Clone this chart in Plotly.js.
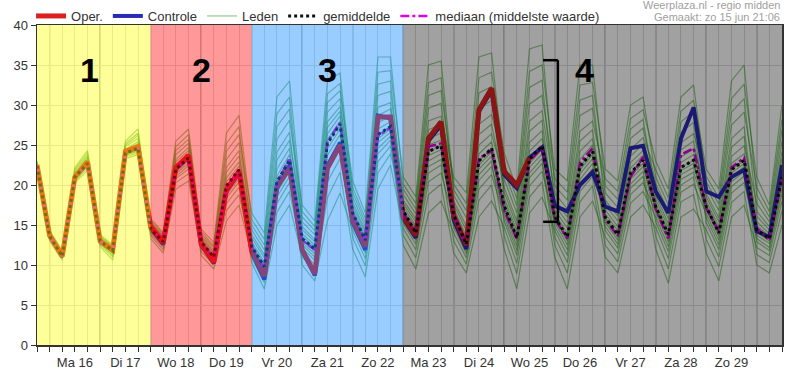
<!DOCTYPE html>
<html><head><meta charset="utf-8">
<script src="https://cdn.plot.ly/plotly-3.0.1.min.js"></script>
<style>html,body{margin:0;padding:0;background:#fff}#chart{width:800px;height:385px}</style>
</head><body><div id="chart"></div>
<script>
// ---- time axis (6-hourly steps from zo 15 jun 18:00 to ma 30 jun 12:00) ----
const startUTC = Date.UTC(2025, 5, 15, 18, 0);
const stepHours = 6;
const nSteps = 60;
const dayLabels = ['Ma 16','Di 17','Wo 18','Do 19','Vr 20','Za 21','Zo 22','Ma 23','Di 24','Wo 25','Do 26','Vr 27','Za 28','Zo 29'];

// ---- series (°C) ----
const oper = [22.5,13.7,11.1,21.0,22.9,13.0,11.9,24.2,24.8,14.8,12.9,22.2,23.7,12.7,10.4,19.4,21.7,11.9,8.6,19.8,22.1,11.9,8.9,22.1,25.0,15.6,12.3,28.5,28.5,16.0,13.7,25.8,27.9,16.2,12.5,29.4,32.1,21.7,20.0,23.4];
const controle = [22.4,13.6,11.0,20.9,22.8,12.9,11.8,24.1,24.7,14.6,12.6,22.0,23.5,12.5,10.2,19.2,21.5,11.6,8.2,19.6,22.4,11.8,8.7,22.4,25.3,15.3,11.9,28.7,28.3,15.8,13.4,25.5,27.5,15.6,12.0,29.2,31.8,21.3,19.6,23.4,24.7,17.4,16.7,20.0,21.6,17.3,16.7,24.6,24.9,19.2,16.5,25.8,29.7,19.2,18.5,21.0,21.9,14.2,13.5,22.5];
const gemiddelde = [22.4,13.6,11.1,21.0,22.7,13.0,11.8,24.0,24.6,14.5,12.9,22.0,23.4,12.9,11.0,19.9,21.9,12.3,9.8,20.4,23.1,13.3,12.0,25.2,27.6,16.5,13.1,26.3,27.3,16.8,14.0,24.2,24.9,16.2,12.6,23.0,24.6,17.4,13.4,23.2,24.9,16.0,13.5,22.3,24.2,16.0,13.8,21.5,23.1,17.3,13.8,22.2,23.1,17.3,14.0,21.9,23.1,14.4,13.3,21.0];
const mediaan = [22.4,13.6,11.1,21.0,22.7,13.0,11.8,24.0,24.6,14.5,12.9,22.0,23.5,12.8,10.9,19.7,21.8,12.2,9.6,20.2,23.4,13.1,11.9,25.4,27.8,16.4,13.0,26.1,27.2,16.5,14.2,24.8,25.2,16.2,12.5,23.3,24.3,16.8,13.3,23.0,24.7,15.8,13.3,22.8,24.6,15.7,13.6,21.0,23.5,17.0,13.3,23.8,24.6,17.1,14.2,22.2,23.4,14.6,13.1,20.8];
const leden = [
[21.5,13.3,10.9,20.7,22.3,12.9,11.6,23.9,24.5,14.6,13.0,22.2,23.7,13.3,11.5,21.6,23.6,14.4,11.9,25.7,28.1,17.5,15.5,33.0,34.0,19.1,15.3,32.6,33.0,17.7,15.4,26.9,27.6,16.1,12.4,22.5,24.1,15.5,11.2,20.9,22.7,12.5,9.0,17.9,19.9,11.0,9.0,16.0,17.5,14.7,10.8,19.1,20.1,16.4,13.1,21.0,22.3,15.4,13.9,22.4],
[23.0,14.1,11.6,21.8,23.7,13.3,12.0,24.5,25.4,14.7,13.1,22.5,23.9,12.8,10.9,19.6,21.6,11.6,8.8,18.5,21.1,10.0,8.0,15.5,19.0,14.3,10.8,22.9,24.9,16.0,13.6,23.0,23.9,17.1,13.6,25.0,26.4,20.7,16.5,30.1,31.2,20.8,19.1,32.5,32.8,22.0,20.5,30.0,31.0,21.0,17.5,27.9,29.2,18.5,15.4,24.7,26.1,14.1,13.0,20.6],
[22.4,13.6,11.1,21.0,22.7,13.1,11.8,24.1,24.8,14.4,12.8,21.8,23.2,12.5,10.6,18.8,20.8,10.9,7.8,16.6,19.2,11.7,10.0,20.4,23.3,15.8,12.4,25.3,26.6,16.9,14.6,25.0,25.6,18.0,14.9,27.6,28.8,22.7,18.3,34.2,35.0,22.0,20.5,35.0,35.0,19.9,18.2,27.0,28.2,18.7,15.2,24.4,25.5,17.3,14.0,21.9,23.1,13.3,12.2,19.5],
[22.4,13.7,11.2,21.2,22.9,13.0,11.8,24.0,24.6,14.8,13.2,22.9,24.3,13.9,12.2,24.2,26.3,16.5,14.0,31.0,33.0,16.7,14.8,31.4,32.7,17.9,14.3,29.7,30.3,16.6,14.3,24.2,24.9,15.2,11.8,21.3,23.0,13.6,8.9,18.5,20.4,11.0,7.0,16.0,18.0,13.5,11.4,18.8,20.3,16.5,12.9,21.3,22.2,18.0,14.8,23.6,24.9,17.7,15.4,25.5],
[22.1,13.2,10.8,20.5,22.1,12.3,10.6,23.3,23.8,13.9,12.2,20.8,22.0,12.6,10.8,19.2,21.2,12.6,10.1,21.1,23.8,14.8,13.2,27.9,29.8,19.7,15.8,34.1,34.3,21.0,18.5,35.0,35.5,19.4,16.8,31.5,32.3,19.1,14.9,26.7,28.1,16.0,13.5,22.3,24.2,14.8,12.6,20.1,21.7,13.6,9.5,17.9,18.8,11.5,8.0,16.0,17.5,12.2,11.2,18.0],
[22.7,14.2,11.7,22.0,24.0,13.8,12.5,25.5,27.0,15.3,13.6,24.3,25.7,13.5,11.6,22.2,24.3,12.9,10.4,22.0,24.6,13.1,11.7,24.5,27.0,15.4,11.9,24.6,26.1,13.7,10.9,18.8,20.1,11.5,9.0,16.0,18.0,14.7,10.2,19.9,21.7,15.3,12.5,21.4,23.3,16.4,14.3,22.1,23.7,19.3,15.8,25.3,26.4,21.1,18.4,30.8,32.6,21.0,17.5,30.0],
[22.3,13.5,11.0,20.8,22.5,12.8,11.4,23.8,24.3,13.7,11.9,20.3,21.4,11.2,9.5,15.5,17.5,11.3,8.4,17.7,20.3,12.5,11.0,22.8,25.5,16.5,13.1,26.3,27.3,18.1,15.8,28.0,28.6,21.0,19.0,36.0,36.5,21.7,17.4,32.2,33.1,17.5,15.3,25.5,26.9,15.7,13.5,21.1,22.7,15.4,11.7,20.0,21.0,13.2,9.8,17.8,19.2,10.0,9.0,15.0],
[22.6,13.8,11.3,21.4,23.3,13.5,12.3,25.0,26.2,15.8,14.0,25.5,27.0,14.2,12.4,25.2,27.3,13.8,11.3,24.1,26.6,13.6,12.2,25.7,28.0,16.2,12.8,25.8,27.0,15.2,12.6,21.5,22.5,13.0,10.1,18.1,20.0,12.0,7.0,16.5,18.5,14.3,11.2,20.1,22.0,16.0,13.8,21.5,23.1,18.2,14.7,23.5,24.5,19.7,16.8,27.5,29.1,19.7,16.7,28.2],
[22.3,13.6,11.1,21.0,22.6,12.8,11.5,23.8,24.4,14.3,12.7,21.6,23.0,12.9,11.0,19.9,21.9,13.4,10.9,23.1,25.6,16.0,14.3,30.3,31.8,20.5,16.5,36.0,36.0,20.1,17.7,32.8,33.4,18.7,15.9,29.5,30.6,18.4,14.3,25.3,26.8,15.7,13.0,21.9,23.8,14.3,12.1,19.6,21.1,12.0,7.7,16.0,17.0,14.4,11.0,19.0,20.3,13.7,12.7,20.1],
[22.5,13.6,11.1,21.1,22.8,13.2,12.0,24.4,25.2,15.2,13.5,23.8,25.2,14.5,12.8,26.5,28.7,15.7,13.2,28.9,31.0,15.4,13.8,29.1,30.8,17.1,13.6,27.8,28.6,16.3,14.0,23.7,24.4,14.7,11.4,20.6,22.3,16.6,12.4,22.2,23.9,16.4,14.0,23.2,25.0,18.1,16.1,24.5,25.9,21.9,18.4,29.2,30.6,22.0,19.5,33.0,35.0,18.7,16.0,26.9],
[21.8,13.0,10.6,20.3,21.8,12.5,11.0,23.5,24.0,14.1,12.4,21.1,22.4,12.1,10.3,17.7,19.7,10.3,7.0,15.0,17.5,11.0,9.2,18.4,21.6,12.0,8.5,19.5,22.5,14.6,11.9,20.4,21.5,15.7,12.1,22.0,23.6,17.9,13.8,24.2,25.8,18.1,16.0,26.7,28.0,20.8,19.2,28.3,29.4,23.0,19.5,31.0,32.5,20.4,17.6,29.1,30.8,16.7,14.8,24.2],
[22.9,14.3,11.8,22.2,24.3,13.6,12.4,25.2,26.5,15.0,13.3,23.2,24.7,13.1,11.3,20.9,22.9,12.3,9.8,20.4,23.1,12.8,11.4,23.7,26.3,14.9,11.5,23.9,25.6,12.5,9.5,16.5,18.0,14.0,10.9,19.5,21.3,16.1,11.8,21.5,23.3,13.5,10.3,19.2,21.1,12.5,10.4,17.7,19.2,16.0,12.3,20.7,21.6,16.9,13.6,21.5,22.7,14.9,13.6,21.6],
[22.2,13.4,10.9,20.8,22.4,12.7,11.2,23.7,24.2,13.3,11.5,19.5,20.5,11.7,10.0,16.8,18.8,11.8,9.1,19.1,21.7,13.3,12.0,25.2,27.6,17.5,14.0,28.7,29.5,19.5,17.0,31.2,31.8,20.1,17.7,33.4,34.1,24.0,19.5,37.0,37.5,19.9,18.1,30.6,31.2,17.5,15.5,23.6,25.1,17.3,13.8,22.2,23.1,15.9,12.5,20.4,21.7,11.3,10.3,16.8],
[22.6,14.0,11.5,21.6,23.5,13.4,12.2,24.8,25.8,15.5,13.8,24.8,26.3,13.7,11.9,23.2,25.3,15.0,12.5,27.3,29.5,14.4,12.9,27.2,29.2,16.8,13.3,27.0,27.9,15.6,13.1,22.3,23.2,16.4,12.7,23.0,24.6,17.0,13.0,22.7,24.5,14.8,11.9,20.7,22.7,15.3,13.1,20.7,22.3,16.9,13.4,21.8,22.7,17.6,14.4,22.7,23.9,16.1,14.4,23.3],
[22.0,13.5,11.0,20.9,22.6,13.0,11.7,24.0,24.5,14.2,12.6,21.4,22.7,12.3,10.5,18.4,20.4,12.0,9.4,19.6,22.3,12.1,10.6,21.8,24.6,13.4,9.9,21.5,23.9,17.3,14.9,25.8,26.5,16.7,13.1,23.9,25.4,17.4,13.4,23.2,24.9,16.9,14.6,24.2,25.8,16.9,14.8,22.8,24.3,17.7,14.2,22.8,23.8,18.9,15.9,25.8,27.3,14.4,13.3,21.0],
[22.8,13.8,11.3,21.3,23.1,13.1,11.9,24.2,25.0,14.5,12.9,22.0,23.4,13.0,11.1,20.4,22.4,12.2,9.6,20.0,22.7,13.9,12.5,26.4,28.6,18.5,14.8,31.2,31.7,18.8,16.4,29.6,30.2,17.6,14.3,26.3,27.6,19.7,15.5,28.0,29.3,19.0,17.0,28.7,29.6,19.0,17.2,25.8,27.1,20.2,16.7,26.6,27.8,15.3,11.9,19.8,21.1,12.9,11.8,18.9]
];

// ---- periods (coloured overlays) and annotations ----
const periodBounds = ['2025-06-15 18:00','2025-06-18 00:00','2025-06-20 00:00','2025-06-23 00:00','2025-06-30 12:00'];
const periodColors = ['rgba(255,255,0,0.40)','rgba(255,0,0,0.40)','rgba(0,128,255,0.40)','rgba(0,0,0,0.37)'];
const periodNumbers = ['1','2','3','4'];
const periodLabelTimes = ['2025-06-16 19:10','2025-06-19 00:00','2025-06-21 12:15','2025-06-26 14:00'];
const periodLabelY = 34.4;
const bracketTimes = ['2025-06-25 18:30','2025-06-26 01:30'];
const bracketRange = [15.4, 35.6];

function fmt(ms){ return new Date(ms).toISOString().slice(0,16).replace('T',' '); }
const times = [];
for (let k = 0; k < nSteps; k++) times.push(fmt(startUTC + k*stepHours*3600e3));
const tickText = times.map((t,k) => (k % 4 === 3 && dayLabels[(k-3)/4]) ? dayLabels[(k-3)/4] : '');

const traces = [];
leden.forEach((m,i) => traces.push({
  x: times.slice(0,m.length), y: m, type:'scatter', mode:'lines', name:'Leden',
  legendgroup:'leden', showlegend: i===0, legendrank:3,
  line:{color:'rgba(40,150,20,0.5)', width:1.2}, hoverinfo:'skip'
}));
traces.push({x: times.slice(0,controle.length), y: controle, type:'scatter', mode:'lines', name:'Controle', legendrank:2,
  line:{color:'#2a2ab8', width:4}});
traces.push({x: times.slice(0,oper.length), y: oper, type:'scatter', mode:'lines', name:'Oper.', legendrank:1,
  line:{color:'#dc2020', width:5}});
traces.push({x: times.slice(0,mediaan.length), y: mediaan, type:'scatter', mode:'lines', name:'mediaan (middelste waarde)', legendrank:5,
  line:{color:'#e000e0', width:2.5, dash:'dashdot'}});
traces.push({x: times.slice(0,gemiddelde.length), y: gemiddelde, type:'scatter', mode:'lines', name:'gemiddelde', legendrank:4,
  line:{color:'#111', width:3, dash:'dot'}});

const shapes = [];
times.forEach((t,k) => { if (k % 4 === 1) shapes.push({type:'line', xref:'x', yref:'paper', x0:t, x1:t, y0:0, y1:1, layer:'between', line:{color:'#555', width:1}}); });
periodColors.forEach((c,i) => shapes.push({type:'rect', xref:'x', yref:'paper', x0:periodBounds[i], x1:periodBounds[i+1], y0:0, y1:1, layer:'above', fillcolor:c, line:{width:0}}));
shapes.push({type:'line', xref:'x', yref:'y', x0:bracketTimes[1], x1:bracketTimes[1], y0:bracketRange[0], y1:bracketRange[1], layer:'above', line:{color:'#000', width:2.5}});
shapes.push({type:'line', xref:'x', yref:'y', x0:bracketTimes[0], x1:bracketTimes[1], y0:bracketRange[0], y1:bracketRange[0], layer:'above', line:{color:'#000', width:2.5}});
shapes.push({type:'line', xref:'x', yref:'y', x0:bracketTimes[0], x1:bracketTimes[1], y0:bracketRange[1], y1:bracketRange[1], layer:'above', line:{color:'#000', width:2.5}});

const annotations = periodNumbers.map((n,i) => ({x: periodLabelTimes[i], y: periodLabelY, xref:'x', yref:'y', text:'<b>'+n+'</b>', showarrow:false,
  font:{family:'Liberation Sans, Arial, sans-serif', size:34, color:'#000'}}));
annotations.push({xref:'paper', yref:'paper', x:1, y:1.061, xanchor:'right', yanchor:'middle', text:'Weerplaza.nl - regio midden', showarrow:false, font:{size:11, color:'#a0a0a0'}});
annotations.push({xref:'paper', yref:'paper', x:1, y:1.025, xanchor:'right', yanchor:'middle', text:'Gemaakt: zo 15 jun 21:06', showarrow:false, font:{size:11, color:'#a0a0a0'}});

const layout = {
  width:800, height:385,
  margin:{l:37, r:18, t:25, b:40, pad:0, autoexpand:false},
  paper_bgcolor:'#fff', plot_bgcolor:'#fff',
  font:{family:'Liberation Sans, Arial, sans-serif', size:13, color:'#333'},
  showlegend:true,
  legend:{orientation:'h', x:-0.008, xanchor:'left', y:1.075, yanchor:'top', font:{size:13, color:'#333'}, bgcolor:'rgba(0,0,0,0)', itemwidth:30, tracegroupgap:0},
  xaxis:{type:'date', range:[times[0], times[nSteps-1]], tickmode:'array', tickvals:times, ticktext:tickText, ticks:'outside', ticklen:5, tickcolor:'#333',
    showgrid:true, gridcolor:'#dcdcdc', gridwidth:1, showline:true, linecolor:'#333', linewidth:1.5, mirror:true, zeroline:false, tickangle:0, fixedrange:true},
  yaxis:{range:[0,40], tickmode:'linear', tick0:0, dtick:5, ticks:'outside', ticklen:5, tickcolor:'#333',
    showgrid:true, gridcolor:'#dcdcdc', gridwidth:1, showline:true, linecolor:'#333', linewidth:1.5, mirror:true, zeroline:false, fixedrange:true},
  shapes:shapes, annotations:annotations
};
Plotly.newPlot('chart', traces, layout, {displayModeBar:false, staticPlot:true});
</script></body></html>
